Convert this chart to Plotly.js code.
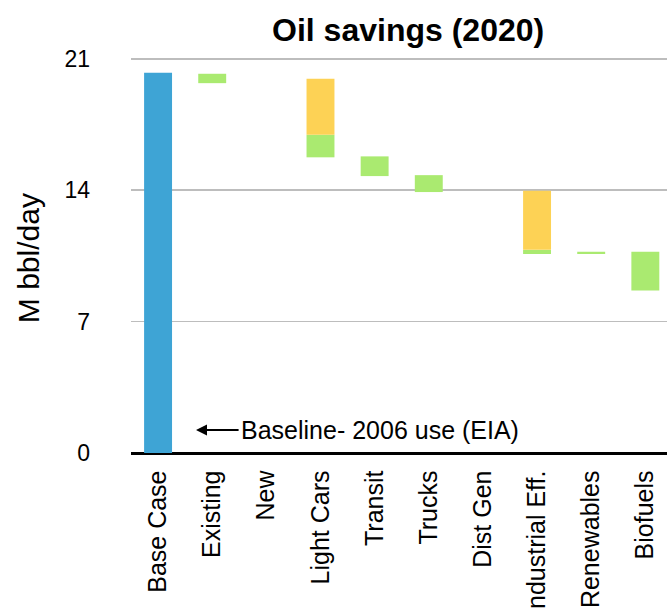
<!DOCTYPE html>
<html>
<head>
<meta charset="utf-8">
<script src="https://cdn.plot.ly/plotly-3.0.1.min.js"></script>
<style>html,body{margin:0;padding:0;background:#fff;}#chart{width:667px;height:611px;}</style>
</head>
<body>
<div id="chart"></div>
<script>
var categories = ['Base Case','Existing','New','Light Cars','Transit','Trucks','Dist Gen','Industrial Eff.','Renewables','Biofuels'];
var baseline   = [20.25, null, null, null, null, null, null, null, null, null];
var greenLow   = [null, 19.7, null, 15.75, 14.75, 13.9, null, 10.6, 10.6, 8.65];
var greenHigh  = [null, 20.2, null, 16.95, 15.8, 14.8, null, 10.82, 10.72, 10.72];
var yellowLow  = [null, null, null, 16.95, null, null, null, 10.82, null, null];
var yellowHigh = [null, null, null, 19.93, null, null, null, 13.97, null, null];
var yTicks = [0, 7, 14, 21];

function diff(hi, lo){ return hi.map(function(v,i){ return (v===null||lo[i]===null)?null:v-lo[i]; }); }

var FONT = '"Liberation Sans", Arial, Helvetica, sans-serif';
var W = 0.516;

var traces = [
  {type:'bar', x:categories, y:baseline, width:W, marker:{color:'#3EA4D5'}, hoverinfo:'skip'},
  {type:'bar', x:categories, y:diff(greenHigh, greenLow), base:greenLow, width:W, marker:{color:'#AAEA70'}, hoverinfo:'skip'},
  {type:'bar', x:categories, y:diff(yellowHigh, yellowLow), base:yellowLow, width:W, marker:{color:'#FDD255'}, hoverinfo:'skip'}
];

var layout = {
  width:667, height:611,
  margin:{l:131, r:0, t:55, b:158},
  paper_bgcolor:'#fff', plot_bgcolor:'#fff',
  showlegend:false,
  barmode:'overlay',
  font:{family:FONT, color:'#000'},
  title:{text:'<b>Oil savings (2020)</b>', font:{family:FONT, size:32, color:'#000'},
         xref:'paper', x:0.517, xanchor:'center', yref:'container', y:0.951, yanchor:'middle'},
  xaxis:{type:'category', range:[-0.5, 9.4], tickangle:-90, tickfont:{size:25, family:FONT},
         showgrid:false, zeroline:false, showline:true, linecolor:'#000', linewidth:1.5,
         ticks:'', ticklabelstandoff:6, fixedrange:true},
  yaxis:{range:[0, 21.2], tickvals:yTicks, ticktext:yTicks.map(String), tickfont:{size:23, family:FONT},
         showgrid:true, gridcolor:'#BDBDBD', gridwidth:1.5, zeroline:true, zerolinecolor:'#000', zerolinewidth:1.5,
         showline:false, ticks:'', ticklabelstandoff:40, fixedrange:true},
  annotations:[
    {xref:'paper', yref:'paper', x:-0.19, y:0.49, text:'M bbl/day', textangle:-90, showarrow:false,
     font:{size:30, family:FONT, color:'#000'}, xanchor:'center', yanchor:'middle'},
    {xref:'x', yref:'y', x:0.70, y:1.225, axref:'x', ayref:'y', ax:1.515, ay:1.225, text:'', showarrow:true,
     arrowhead:2, arrowsize:1.1, arrowwidth:2, arrowcolor:'#000'},
    {xref:'x', yref:'y', x:1.49, y:1.225, text:'Baseline- 2006 use (EIA)', showarrow:false,
     xanchor:'left', yanchor:'middle', font:{size:25, family:FONT, color:'#000'}}
  ]
};

Plotly.newPlot('chart', traces, layout, {staticPlot:true, displayModeBar:false});
</script>
</body>
</html>
